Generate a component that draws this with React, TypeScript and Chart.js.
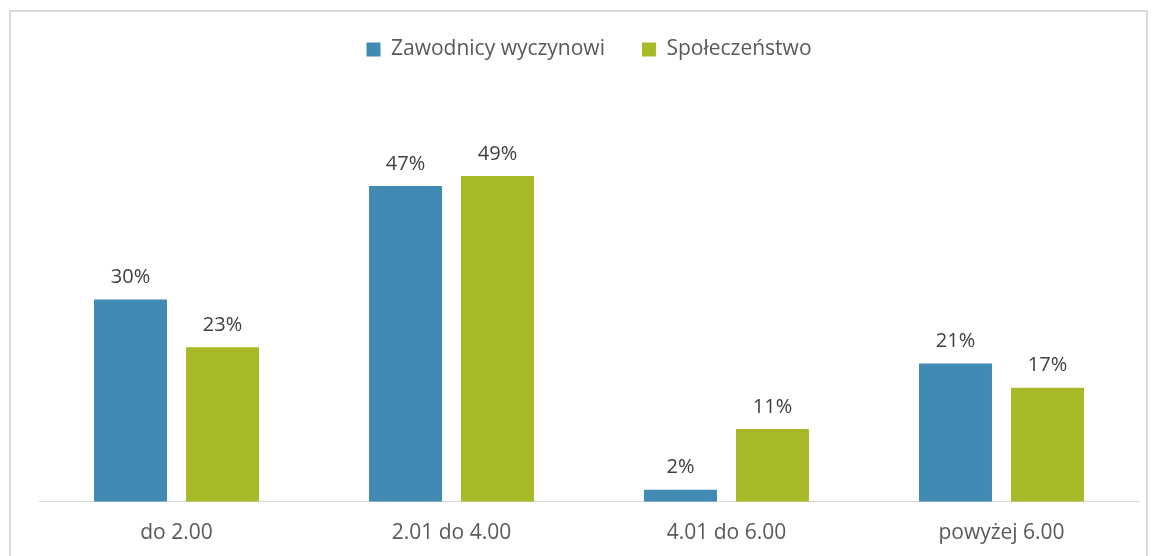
import React, { useEffect, useRef } from "react";
import { Chart, registerables } from "chart.js";

Chart.register(...registerables);

const categories = ["do 2.00", "2.01 do 4.00", "4.01 do 6.00", "powyżej 6.00"];
const seriesNames = ["Zawodnicy wyczynowi", "Społeczeństwo"];
const athletes = [30, 46.8, 1.8, 20.5];
const society = [22.9, 48.3, 10.8, 16.9];
const athleteLabels = ["30%", "47%", "2%", "21%"];
const societyLabels = ["23%", "49%", "11%", "17%"];
const valueLabels = [athleteLabels, societyLabels];

const FONT = "'Open Sans', sans-serif";

const dataLabels = {
  id: "dataLabels",
  afterDatasetsDraw(chart: any) {
    const ctx = chart.ctx;
    ctx.save();
    ctx.font = `20px ${FONT}`;
    ctx.fillStyle = "#404040";
    ctx.textAlign = "center";
    ctx.textBaseline = "middle";
    chart.data.datasets.forEach((ds: any, i: number) => {
      const meta = chart.getDatasetMeta(i);
      meta.data.forEach((bar: any, j: number) => {
        ctx.fillText(valueLabels[i][j], bar.x, bar.y - 22);
      });
    });
    ctx.restore();
  },
};

export default function App() {
  const ref = useRef<HTMLCanvasElement>(null);
  useEffect(() => {
    if (!ref.current) return;
    const chart = new Chart(ref.current, {
      type: "bar",
      data: {
        labels: categories,
        datasets: [
          { label: seriesNames[0], data: athletes, backgroundColor: "#408AB3" },
          { label: seriesNames[1], data: society, backgroundColor: "#A8B928" },
        ],
      },
      options: {
        animation: false,
        responsive: false,
        maintainAspectRatio: false,
        datasets: { bar: { categoryPercentage: 0.669, barPercentage: 0.793 } },
        layout: { padding: { left: 39, right: 16, top: 2, bottom: 10 } },
        plugins: {
          legend: {
            position: "top",
            labels: {
              boxWidth: 14,
              boxHeight: 14,
              padding: 37,
              color: "#595959",
              font: { family: FONT, size: 21 },
            },
          },
          tooltip: { enabled: false },
        },
        scales: {
          x: {
            grid: { display: false, drawTicks: false },
            border: { display: true, color: "#d9d9d9", width: 1 },
            ticks: { color: "#595959", font: { family: FONT, size: 21 }, padding: 19 },
          },
          y: { display: false, min: 0, max: 64 },
        },
      },
      plugins: [dataLabels],
    });
    return () => chart.destroy();
  }, []);
  return (
    <div style={{ position: "fixed", left: 0, top: 0, width: 1155, height: 556, background: "#fff", overflow: "hidden" }}>
      <div
        style={{
          position: "absolute",
          left: 9,
          top: 10,
          width: 1135,
          height: 560,
          border: "2px solid #d9d9d9",
        }}
      />
      <canvas ref={ref} width={1155} height={575} style={{ position: "absolute", left: 0, top: 0 }} />
    </div>
  );
}
